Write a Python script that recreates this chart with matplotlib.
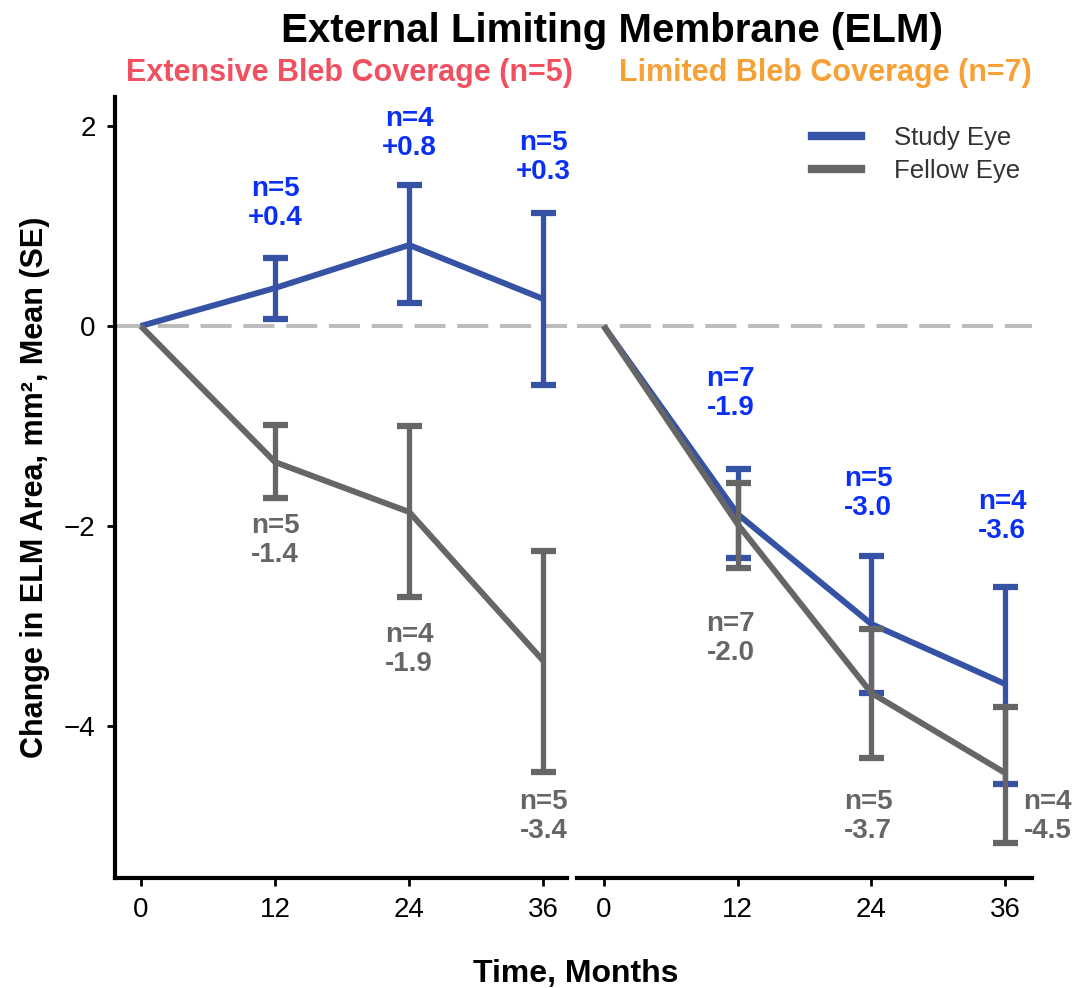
import matplotlib
matplotlib.use("Agg")
import matplotlib.pyplot as plt
from matplotlib.lines import Line2D

plt.rcParams['font.family'] = ['Liberation Sans', 'DejaVu Sans']

# Data
months = [0, 12, 24, 36]

ext_study_mean = [0, 0.38, 0.81, 0.27]
ext_study_lo = [0, 0.07, 0.23, -0.59]
ext_study_hi = [0, 0.68, 1.41, 1.13]
ext_fellow_mean = [0, -1.36, -1.86, -3.35]
ext_fellow_lo = [0, -1.72, -2.71, -4.46]
ext_fellow_hi = [0, -0.99, -1.00, -2.25]

lim_study_mean = [0, -1.88, -2.98, -3.58]
lim_study_lo = [0, -2.32, -3.67, -4.58]
lim_study_hi = [0, -1.43, -2.30, -2.61]
lim_fellow_mean = [0, -1.98, -3.67, -4.47]
lim_fellow_lo = [0, -2.42, -4.32, -5.17]
lim_fellow_hi = [0, -1.57, -3.03, -3.81]

ext_study_labels = ["n=5\n+0.4", "n=4\n+0.8", "n=5\n+0.3"]
ext_fellow_labels = ["n=5\n-1.4", "n=4\n-1.9", "n=5\n-3.4"]
lim_study_labels = ["n=7\n-1.9", "n=5\n-3.0", "n=4\n-3.6"]
lim_fellow_labels = ["n=7\n-2.0", "n=5\n-3.7", "n=4\n-4.5"]

# label placement (layout only)
ext_study_pos = [(12, 1.23), (24, 1.93), (36, 1.69)]
ext_fellow_pos = [(12, -2.14), (24, -3.23), (36, -4.9)]
lim_study_pos = [(11.4, -0.67), (23.7, -1.67), (35.7, -1.9)]
lim_fellow_pos = [(11.4, -3.12), (23.7, -4.9), (39.8, -4.9)]

study_col = "#3552A4"
fellow_col = "#666666"
study_txt = "#0A30F5"
fellow_txt = "#666666"

fig = plt.figure(figsize=(10.76, 9.88), dpi=100)
ax1 = fig.add_axes([0.1069, 0.1113, 0.420, 0.7905])
ax2 = fig.add_axes([0.5362, 0.1113, 0.4229, 0.7905])


def draw_panel(ax, s_mean, s_lo, s_hi, f_mean, f_lo, f_hi):
    ax.axhline(0, color="#BBBBBB", lw=2.8, dashes=(8, 3), zorder=1)
    for mean, lo, hi, col, z in [(s_mean, s_lo, s_hi, study_col, 3),
                                 (f_mean, f_lo, f_hi, fellow_col, 4)]:
        err = [[m - l for m, l in zip(mean, lo)], [h - m for m, h in zip(mean, hi)]]
        ax.errorbar(months[1:], mean[1:], yerr=[err[0][1:], err[1][1:]], fmt='none',
                    ecolor=col, elinewidth=3.8, capsize=9, capthick=4.5, zorder=z)
        ax.plot(months, mean, color=col, lw=4.3, solid_capstyle='butt', zorder=z)


draw_panel(ax1, ext_study_mean, ext_study_lo, ext_study_hi,
           ext_fellow_mean, ext_fellow_lo, ext_fellow_hi)
draw_panel(ax2, lim_study_mean, lim_study_lo, lim_study_hi,
           lim_fellow_mean, lim_fellow_lo, lim_fellow_hi)

for ax, labels, pos, col in [(ax1, ext_study_labels, ext_study_pos, study_txt),
                             (ax1, ext_fellow_labels, ext_fellow_pos, fellow_txt),
                             (ax2, lim_study_labels, lim_study_pos, study_txt),
                             (ax2, lim_fellow_labels, lim_fellow_pos, fellow_txt)]:
    for lab, (x, y) in zip(labels, pos):
        ax.text(x, y, lab, color=col, fontsize=20, fontweight='bold',
                ha='center', va='center', linespacing=1.15, clip_on=False)

ax1.set_xlim(-2.3, 38.1)
ax2.set_xlim(-2.4, 38.4)
for ax in (ax1, ax2):
    ax.set_ylim(-5.52, 2.29)
    ax.set_xticks(months)
    ax.set_xticklabels([str(m) for m in months])
    ax.spines['top'].set_visible(False)
    ax.spines['right'].set_visible(False)
    ax.spines['bottom'].set_linewidth(3)
    ax.spines['left'].set_linewidth(3)
    ax.tick_params(axis='both', width=2, length=6, labelsize=20, pad=8)
    ax.set_facecolor('none')

ax1.set_yticks([-4, -2, 0, 2])
ax1.set_yticklabels(["\u22124", "\u22122", "0", "2"])
ax2.spines['left'].set_visible(False)
ax2.set_yticks([])

ax1.set_ylabel("Change in ELM Area, mm\u00b2, Mean (SE)", fontsize=22,
               fontweight='bold', labelpad=10)
fig.text(0.535, 0.014, "Time, Months", fontsize=23, fontweight='bold',
         ha='center', va='center')

fig.text(0.569, 0.969, "External Limiting Membrane (ELM)", fontsize=29,
         fontweight='bold', ha='center', va='center')
fig.text(0.325, 0.926, "Extensive Bleb Coverage (n=5)", fontsize=22,
         fontweight='bold', ha='center', va='center', color="#F0505F")
fig.text(0.767, 0.926, "Limited Bleb Coverage (n=7)", fontsize=22,
         fontweight='bold', ha='center', va='center', color="#F7A035")

handles = [Line2D([], [], color=study_col, lw=6),
           Line2D([], [], color=fellow_col, lw=6)]
leg = fig.legend(handles, ["Study Eye", "Fellow Eye"], loc='upper left',
                 bbox_to_anchor=(0.733, 0.896), frameon=False, fontsize=18.5,
                 handlelength=1.9, handletextpad=1.3, labelspacing=0.35)
for t in leg.get_texts():
    t.set_color("#333333")

fig.savefig("out.png", dpi=100)
